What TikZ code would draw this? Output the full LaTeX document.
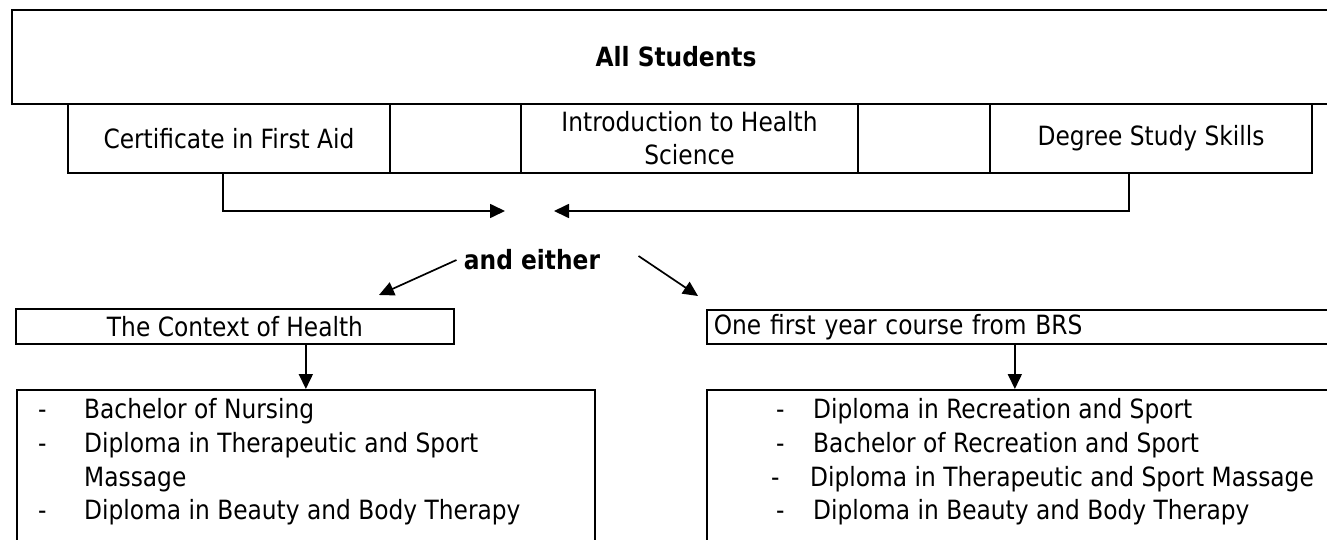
\documentclass[tikz,border=0pt]{standalone}
\usepackage{fontspec}
\setmainfont{DejaVu Sans}[FakeStretch=0.88]
\usetikzlibrary{arrows.meta}
\tikzset{
  box/.style={draw,line width=1.7pt,inner sep=0pt,align=center},
  arr/.style={line width=1.7pt,-{Triangle[length=15pt,width=14pt]}},
  item/.style={anchor=base west,inner sep=0pt}
}
\begin{document}
\begin{tikzpicture}[x=1pt,y=-1pt,font=\fontsize{26.5}{33}\selectfont]
  \useasboundingbox (0,0) rectangle (1327,540);
  \clip (0,0) rectangle (1327,540);
  % top row
  \node[box,minimum width=1328pt,minimum height=94pt] (all) at (676,57) {\bfseries All Students};
  \node[box,minimum width=322pt,minimum height=69pt] (cert) at (229,138.5) {Certificate in First Aid};
  \node[box,minimum width=131pt,minimum height=69pt] (gapa) at (455.5,138.5) {};
  \node[box,minimum width=337pt,minimum height=69pt] (intro) at (689.5,138.5) {Introduction to Health\\Science};
  \node[box,minimum width=132pt,minimum height=69pt] (gapb) at (924,138.5) {};
  \node[box,minimum width=322pt,minimum height=69pt] (degree) at (1151,138.5) {Degree Study Skills};
  % joining arrows
  \coordinate (joinl) at (505,211);
  \coordinate (joinr) at (554,211);
  \draw[arr] ([xshift=-6pt]cert.south) |- (joinl);
  \draw[arr] ([xshift=-22pt]degree.south) |- (joinr);
  \node[font=\fontsize{26.5}{33}\selectfont\bfseries] (either) at (532,260) {and either};
  \coordinate (ctxtip) at (379,295);
  \coordinate (brstip) at (698,296);
  \draw[arr] ([xshift=-4pt]either.west) -- (ctxtip);
  \draw[arr] ([xshift=35pt,yshift=4pt]either.east) -- (brstip);
  % second level
  \node[box,minimum width=438pt,minimum height=35pt] (ctx) at (235,326.5) {The Context of Health};
  \node[box,anchor=north west,minimum width=650pt,minimum height=34pt,text width=636pt,align=left,inner xsep=7pt] (brs) at (706,309) {One first year course from BRS};
  \node[box,anchor=north west,minimum width=578pt,minimum height=180pt] (healthlist) at (16,389) {};
  \node[box,anchor=north west,minimum width=650pt,minimum height=180pt] (brslist) at (706,389) {};
  \coordinate (brsdrop) at ([xshift=-17pt]brs.south);
  \draw[arr] (ctx.south -| healthlist.north) -- (healthlist.north);
  \draw[arr] (brsdrop) -- (brsdrop |- brslist.north);
  % left list
  \node[item] (hda) at (38,418) {-};
  \node[item] (hia) at (84,418) {Bachelor of Nursing};
  \node[item] (hdb) at (38,452) {-};
  \node[item] (hib) at (84,452) {Diploma in Therapeutic and Sport};
  \node[item] (hic) at (84,486) {Massage};
  \node[item] (hdd) at (38,519) {-};
  \node[item] (hid) at (84,519) {Diploma in Beauty and Body Therapy};
  % right list
  \node[item] (bda) at (776,418) {-};
  \node[item] (bia) at (813,418) {Diploma in Recreation and Sport};
  \node[item] (bdb) at (776,452) {-};
  \node[item] (bib) at (813,452) {Bachelor of Recreation and Sport};
  \node[item] (bdc) at (771,486) {-};
  \node[item] (bic) at (810,486) {Diploma in Therapeutic and Sport Massage};
  \node[item] (bdd) at (776,519) {-};
  \node[item] (bid) at (813,519) {Diploma in Beauty and Body Therapy};
\end{tikzpicture}
\end{document}
